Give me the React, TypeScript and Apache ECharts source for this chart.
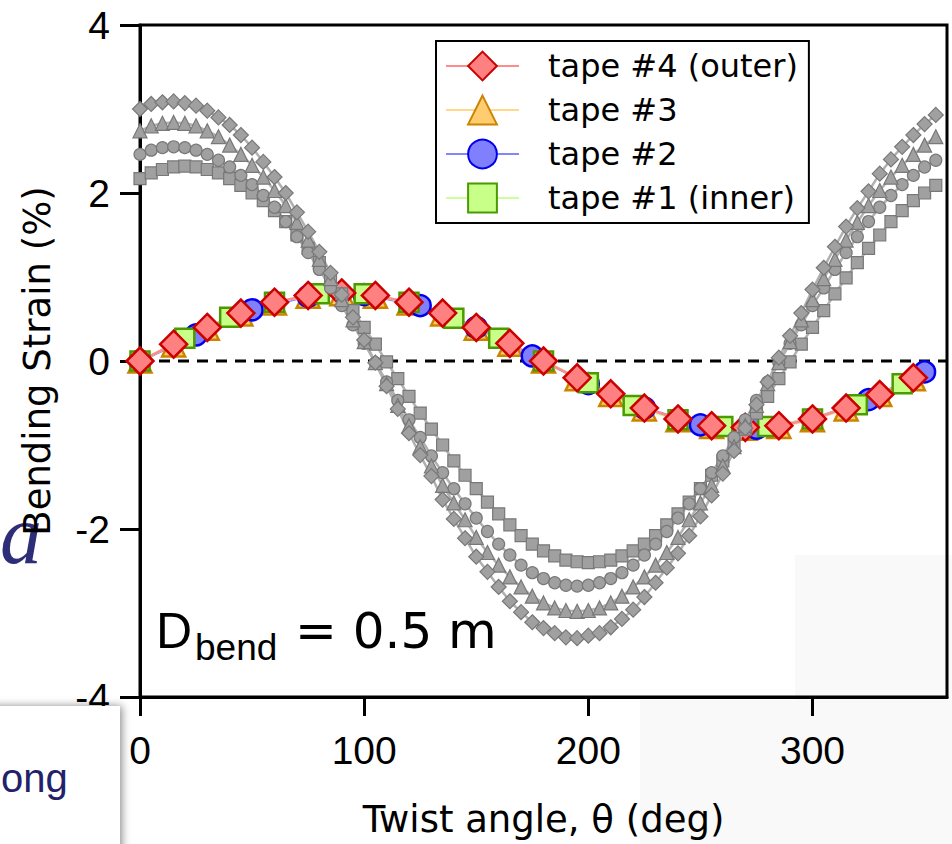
import { useEffect, useRef } from "react";
import * as echarts from "echarts";

const DEJAVU = "'DejaVu Sans', sans-serif";
const ARIAL = "'Liberation Sans', Arial, sans-serif";

// ---- gray curves (5 deg step) ----
const grayTheta = [
  0, 5, 10, 15, 20, 25, 30, 35, 40, 45, 50, 55, 60, 65, 70, 75, 80, 85, 90, 95,
  100, 105, 110, 115, 120, 125, 130, 135, 140, 145, 150, 155, 160, 165, 170, 175,
  180, 185, 190, 195, 200, 205, 210, 215, 220, 225, 230, 235, 240, 245, 250, 255,
  260, 265, 270, 275, 280, 285, 290, 295, 300, 305, 310, 315, 320, 325, 330, 335,
  340, 345, 350, 355,
];
const grayDiamond = [
  3.0, 3.06, 3.08, 3.09, 3.07, 3.04, 2.98, 2.9, 2.81, 2.69, 2.54, 2.37, 2.19, 2.0,
  1.77, 1.54, 1.3, 1.05, 0.79, 0.52, 0.25, -0.02, -0.3, -0.57, -0.86, -1.12, -1.37,
  -1.65, -1.88, -2.11, -2.33, -2.51, -2.69, -2.86, -2.99, -3.11, -3.18, -3.24, -3.29,
  -3.3, -3.27, -3.24, -3.17, -3.07, -2.96, -2.81, -2.64, -2.46, -2.29, -2.08, -1.85,
  -1.6, -1.34, -1.07, -0.8, -0.52, -0.25, 0.04, 0.3, 0.57, 0.85, 1.11, 1.36, 1.6,
  1.82, 2.02, 2.23, 2.4, 2.55, 2.69, 2.82, 2.93,
];
const grayTriangle = [
  2.74, 2.8, 2.83, 2.84, 2.83, 2.8, 2.74, 2.67, 2.57, 2.46, 2.33, 2.19, 2.03, 1.85,
  1.65, 1.44, 1.21, 0.98, 0.73, 0.49, 0.23, -0.02, -0.27, -0.53, -0.77, -1.02, -1.25,
  -1.48, -1.69, -1.89, -2.1, -2.28, -2.43, -2.57, -2.69, -2.8, -2.88, -2.94, -2.97,
  -2.98, -2.97, -2.94, -2.88, -2.8, -2.69, -2.57, -2.43, -2.28, -2.1, -1.89, -1.69,
  -1.48, -1.25, -1.02, -0.77, -0.53, -0.27, -0.02, 0.23, 0.49, 0.73, 0.98, 1.21, 1.44,
  1.65, 1.85, 2.03, 2.19, 2.33, 2.46, 2.57, 2.67,
];
const grayCircle = [
  2.46, 2.51, 2.54, 2.55, 2.54, 2.51, 2.46, 2.39, 2.31, 2.21, 2.1, 1.97, 1.83, 1.66,
  1.48, 1.29, 1.09, 0.87, 0.66, 0.43, 0.21, -0.02, -0.25, -0.47, -0.7, -0.91, -1.13,
  -1.33, -1.52, -1.7, -1.87, -2.03, -2.18, -2.31, -2.43, -2.52, -2.59, -2.64, -2.67,
  -2.68, -2.67, -2.64, -2.59, -2.52, -2.43, -2.31, -2.18, -2.03, -1.87, -1.7, -1.52,
  -1.33, -1.13, -0.91, -0.7, -0.47, -0.25, -0.02, 0.21, 0.43, 0.66, 0.87, 1.09, 1.29,
  1.48, 1.66, 1.83, 1.97, 2.1, 2.21, 2.31, 2.39,
];
const graySquare = [
  2.17, 2.24, 2.28, 2.31, 2.32, 2.31, 2.28, 2.24, 2.17, 2.09, 2.0, 1.91, 1.79, 1.66,
  1.5, 1.34, 1.17, 0.99, 0.8, 0.6, 0.4, 0.2, -0.01, -0.21, -0.42, -0.62, -0.81, -1.0,
  -1.19, -1.36, -1.52, -1.68, -1.82, -1.95, -2.08, -2.18, -2.26, -2.32, -2.37, -2.39,
  -2.4, -2.39, -2.37, -2.32, -2.26, -2.18, -2.08, -1.95, -1.82, -1.68, -1.52, -1.36,
  -1.19, -1.0, -0.81, -0.62, -0.42, -0.21, -0.01, 0.2, 0.4, 0.6, 0.8, 0.99, 1.17, 1.34,
  1.5, 1.66, 1.79, 1.91, 2.0, 2.09,
];

// ---- coloured tapes ----
const theta15 = [
  0, 15, 30, 45, 60, 75, 90, 105, 120, 135, 150, 165, 180, 195, 210, 225, 240, 255,
  270, 285, 300, 315, 330, 345,
];
const tape4 = [
  0, 0.2, 0.4, 0.57, 0.7, 0.78, 0.81, 0.78, 0.7, 0.57, 0.4, 0.21, 0.0, -0.2, -0.39,
  -0.56, -0.69, -0.77, -0.79, -0.77, -0.69, -0.56, -0.4, -0.2,
];
const tape3 = [
  0, 0.19, 0.39, 0.56, 0.69, 0.77, 0.8, 0.77, 0.69, 0.56, 0.39, 0.2, 0.0, -0.21, -0.4,
  -0.57, -0.7, -0.78, -0.8, -0.78, -0.7, -0.57, -0.4, -0.21,
];
const theta25 = [0, 25, 50, 75, 100, 125, 150, 175, 200, 225, 250, 275, 300, 325, 350];
const tape2 = [
  0, 0.31, 0.61, 0.77, 0.79, 0.66, 0.4, 0.06, -0.27, -0.56, -0.76, -0.8, -0.69, -0.46,
  -0.13,
];
const theta20 = [
  0, 20, 40, 60, 80, 100, 120, 140, 160, 180, 200, 220, 240, 260, 280, 300, 320, 340,
];
const tape1 = [
  0, 0.27, 0.52, 0.7, 0.8, 0.8, 0.7, 0.51, 0.27, 0.0, -0.26, -0.53, -0.7, -0.78, -0.78,
  -0.69, -0.52, -0.27,
];

const zeroLine = [
  [0, 0],
  [360, 0],
];

const legendNames = ["tape #4 (outer)", "tape #3", "tape #2", "tape #1 (inner)"];

const pairs = (xs: number[], ys: number[]) => xs.map((x, i) => [x, ys[i]]);

export default function App() {
  const ref = useRef<HTMLDivElement>(null);

  useEffect(() => {
    const chart = echarts.init(ref.current!, null, { renderer: "svg" });

    const gray = (sym: string, size: number, ys: number[]) => ({
      type: "line",
      data: pairs(grayTheta, ys),
      symbol: sym,
      symbolSize: size,
      showAllSymbol: true,
      silent: true,
      z: 4,
      lineStyle: { color: "#b0b0b0", width: 2.5 },
      itemStyle: { color: "#a0a0a0", borderColor: "#787878", borderWidth: 1.2 },
    });

    const tape = (
      name: string,
      sym: string,
      size: number,
      xs: number[],
      ys: number[],
      fill: string,
      border: string,
      line: string
    ) => ({
      type: "line",
      name,
      data: pairs(xs, ys),
      symbol: sym,
      symbolSize: size,
      showAllSymbol: true,
      silent: true,
      z: 3,
      lineStyle: { color: line, width: 2.5 },
      itemStyle: { color: fill, borderColor: border, borderWidth: 2.5 },
    });

    chart.setOption({
      animation: false,
      backgroundColor: "#ffffff",
      grid: {
        left: 140,
        top: 25,
        right: 5,
        bottom: 147,
        show: true,
        borderColor: "#000",
        borderWidth: 3,
      },
      xAxis: {
        type: "value",
        min: 0,
        max: 360,
        interval: 100,
        name: "Twist angle, \u03b8 (deg)",
        nameLocation: "middle",
        nameGap: 122,
        nameTextStyle: {
          fontFamily: DEJAVU,
          fontSize: 37,
          color: "#000",
          verticalAlign: "middle",
        },
        axisLine: { show: true, onZero: false, lineStyle: { color: "#000", width: 3 } },
        axisTick: { show: true, inside: false, length: 19, lineStyle: { color: "#000", width: 3 } },
        axisLabel: {
          fontFamily: ARIAL,
          fontSize: 39,
          color: "#000",
          margin: 34,
          showMaxLabel: false,
        },
        splitLine: { show: false },
      },
      yAxis: {
        type: "value",
        min: -4,
        max: 4,
        interval: 2,
        name: "Bending Strain (%)",
        nameLocation: "middle",
        nameGap: 103,
        nameTextStyle: {
          fontFamily: DEJAVU,
          fontSize: 37,
          color: "#000",
          verticalAlign: "middle",
        },
        axisLine: { show: true, onZero: false, lineStyle: { color: "#000", width: 3 } },
        axisTick: { show: true, inside: false, length: 20, lineStyle: { color: "#000", width: 3 } },
        axisLabel: { fontFamily: ARIAL, fontSize: 39, color: "#000", margin: 30 },
        splitLine: { show: false },
      },
      legend: {
        data: legendNames,
        orient: "vertical",
        left: 436,
        top: 41,
        padding: [9, 11, 9, 9],
        itemWidth: 73,
        itemHeight: 36,
        itemGap: 12,
        borderColor: "#000",
        borderWidth: 2,
        borderRadius: 0,
        backgroundColor: "#fff",
        selectedMode: false,
        textStyle: {
          fontFamily: DEJAVU,
          fontSize: 32,
          color: "#000",
          padding: [0, 0, 0, 24],
        },
      },
      series: [
        {
          type: "line",
          data: zeroLine,
          symbol: "none",
          silent: true,
          z: 1,
          lineStyle: { color: "#000", width: 3, type: [11, 8] },
        },
        tape("tape #3", "triangle", 23, theta15, tape3, "#ffcc70", "#cc8400", "#ffd88a"),
        tape("tape #2", "circle", 21, theta25, tape2, "#8080ff", "#0000ee", "#8585ff"),
        tape("tape #1 (inner)", "rect", 19, theta20, tape1, "#c8ff88", "#4a9a00", "#ccff99"),
        tape("tape #4 (outer)", "diamond", 27, theta15, tape4, "#ff8080", "#cc0000", "#ff8c8c"),
        gray("rect", 12, graySquare),
        gray("circle", 12, grayCircle),
        gray("triangle", 14, grayTriangle),
        gray("diamond", 15, grayDiamond),
      ],
      graphic: [
        {
          type: "rect",
          z: -20,
          shape: { x: 640, y: 700, width: 312, height: 144 },
          style: { fill: "#f9f9f9" },
          silent: true,
        },
        {
          type: "rect",
          z: -20,
          shape: { x: 795, y: 555, width: 157, height: 145 },
          style: { fill: "#f9f9f9" },
          silent: true,
        },
        {
          type: "text",
          z: -10,
          x: 0,
          y: 534,
          silent: true,
          style: {
            text: "a",
            font: "italic 84px 'Liberation Serif', serif",
            fill: "#2e2e78",
            textAlign: "left",
            textVerticalAlign: "middle",
            align: "left",
            verticalAlign: "middle",
          },
        },
        {
          type: "rect",
          z: 50,
          silent: true,
          shape: { x: -20, y: 706, width: 140, height: 170 },
          style: {
            fill: "#ffffff",
            shadowBlur: 8,
            shadowColor: "rgba(0,0,0,0.45)",
            shadowOffsetX: 2,
          },
        },
        {
          type: "text",
          z: 51,
          x: 1,
          y: 778,
          silent: true,
          style: {
            text: "ong",
            font: "40px 'Liberation Sans', Arial, sans-serif",
            fill: "#22226a",
            textAlign: "left",
            textVerticalAlign: "middle",
            align: "left",
            verticalAlign: "middle",
          },
        },
        {
          type: "text",
          z: 10,
          x: 156,
          y: 631,
          silent: true,
          style: {
            text: "D",
            font: "50px " + ARIAL,
            fill: "#000",
            textAlign: "left",
            textVerticalAlign: "middle",
            align: "left",
            verticalAlign: "middle",
          },
        },
        {
          type: "text",
          z: 10,
          x: 195,
          y: 647,
          silent: true,
          style: {
            text: "bend",
            font: "37px " + ARIAL,
            fill: "#000",
            textAlign: "left",
            textVerticalAlign: "middle",
            align: "left",
            verticalAlign: "middle",
          },
        },
        {
          type: "text",
          z: 10,
          x: 279,
          y: 631,
          silent: true,
          style: {
            text: " = 0.5 m",
            font: "50px " + DEJAVU,
            fill: "#000",
            textAlign: "left",
            textVerticalAlign: "middle",
            align: "left",
            verticalAlign: "middle",
          },
        },
      ],
    });

    return () => chart.dispose();
  }, []);

  return (
    <div
      ref={ref}
      style={{ position: "fixed", left: 0, top: 0, width: 952, height: 844 }}
    />
  );
}
